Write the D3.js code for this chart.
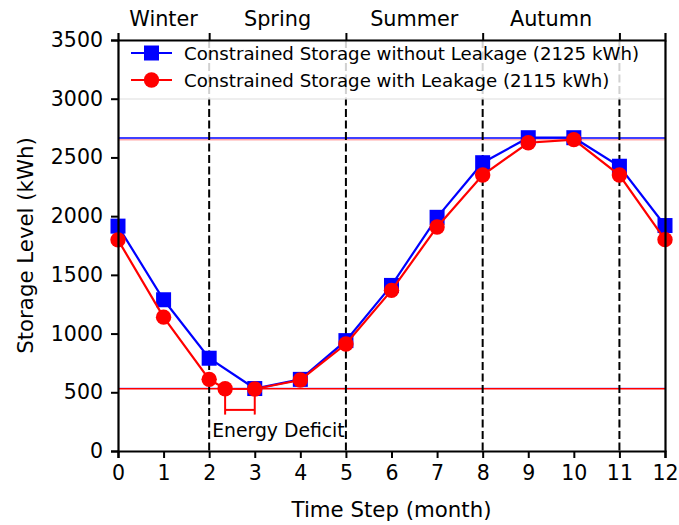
<!DOCTYPE html>
<html>
<head>
<meta charset="utf-8">
<script src="https://cdn.jsdelivr.net/npm/d3@7"></script>
<style>
  html, body { margin: 0; padding: 0; background: #fff; }
  svg { display: block; font-family: "DejaVu Sans", sans-serif; }
</style>
</head>
<body>
<svg id="chart" width="679" height="525"></svg>
<script>
// Monthly storage levels (kWh)
const monthsNoLeak = [0, 1, 2, 3, 4, 5, 6, 7, 8, 9, 10, 11, 12];
const storageNoLeak = [1915, 1288, 790, 532, 610, 940, 1410, 1990, 2455, 2668, 2668, 2425, 1920];

const monthsLeak = [0, 1, 2, 2.35, 3, 4, 5, 6, 7, 8, 9, 10, 11, 12];
const storageLeak = [1798, 1140, 610, 530, 528, 605, 911, 1368, 1908, 2350, 2625, 2652, 2350, 1800];

// Reference levels: maximum and minimum of each series
const levelNoLeak = [2665, 535];
const levelLeak = [2650, 530];

// Season boundaries and season label positions
const seasonBounds = [2, 5, 8, 11];
const seasonNames = ["Winter", "Spring", "Summer", "Autumn"];
const seasonCentres = [1, 3.5, 6.5, 9.5];

// Energy deficit span (months) and bracket depth (kWh)
const deficitSpan = [2.35, 3];
const deficitBracket = [350, 310];

const xTicks = d3.range(0, 13);
const yTicks = [0, 500, 1000, 1500, 2000, 2500, 3000, 3500];

const legendLabels = [
  "Constrained Storage without Leakage (2125 kWh)",
  "Constrained Storage with Leakage (2115 kWh)"
];

const BLUE = "#0000ff", RED = "#ff0000";

const svg = d3.select("#chart");
const margin = { left: 118, right: 14, top: 40, bottom: 74 };
const W = 679, H = 525;

const x = d3.scaleLinear().domain([0, 12]).range([margin.left, W - margin.right]);
const y = d3.scaleLinear().domain([0, 3500]).range([H - margin.bottom, margin.top]);

const plot = svg.append("g");

// Reference lines
function hline(v, colour, op) {
  plot.append("line")
    .attr("x1", x(0)).attr("x2", x(12))
    .attr("y1", y(v)).attr("y2", y(v))
    .attr("stroke", colour).attr("stroke-width", 1.5).attr("stroke-opacity", op);
}
hline(levelLeak[0], RED, 0.35);
hline(levelNoLeak[0], BLUE, 1);
hline(levelNoLeak[1], BLUE, 0.35);
hline(levelLeak[1], RED, 1);

// Season boundaries
plot.selectAll(".season-line").data(seasonBounds).join("line")
  .attr("x1", d => x(d)).attr("x2", d => x(d))
  .attr("y1", y(3500)).attr("y2", y(0))
  .attr("stroke", "#000").attr("stroke-width", 2)
  .attr("stroke-dasharray", "8,3.5");

// Series
const line = d3.line();
const ptsNo = monthsNoLeak.map((m, i) => [x(m), y(storageNoLeak[i])]);
const ptsLk = monthsLeak.map((m, i) => [x(m), y(storageLeak[i])]);

plot.append("path").attr("d", line(ptsNo)).attr("fill", "none")
  .attr("stroke", BLUE).attr("stroke-width", 2.2);
plot.selectAll(".sq").data(ptsNo).join("rect")
  .attr("x", d => d[0] - 7.5).attr("y", d => d[1] - 7.5)
  .attr("width", 15).attr("height", 15).attr("fill", BLUE);

plot.append("path").attr("d", line(ptsLk)).attr("fill", "none")
  .attr("stroke", RED).attr("stroke-width", 2.2);
plot.selectAll(".dot").data(ptsLk).join("circle")
  .attr("cx", d => d[0]).attr("cy", d => d[1]).attr("r", 7.7).attr("fill", RED);

// Energy deficit bracket
const bx0 = x(deficitSpan[0]), bx1 = x(deficitSpan[1]);
const defLevel = storageLeak[monthsLeak.indexOf(deficitSpan[1])];
const br = plot.append("g").attr("stroke", RED).attr("stroke-width", 2).attr("fill", "none");
br.append("line").attr("x1", bx0).attr("x2", bx0).attr("y1", y(defLevel)).attr("y2", y(deficitBracket[1]));
br.append("line").attr("x1", bx1).attr("x2", bx1).attr("y1", y(defLevel)).attr("y2", y(deficitBracket[1]));
br.append("line").attr("x1", bx0).attr("x2", bx1).attr("y1", y(deficitBracket[0])).attr("y2", y(deficitBracket[0]));

svg.append("text")
  .attr("x", x(3.52)).attr("y", 437)
  .attr("text-anchor", "middle").attr("font-size", 18.8)
  .text("Energy Deficit");

// Legend, spanning the top of the plot
const lg = svg.append("g");
lg.append("rect")
  .attr("x", x(0)).attr("y", y(3500))
  .attr("width", x(12) - x(0)).attr("height", 59)
  .attr("fill", "#fff").attr("fill-opacity", 0.82)
  .attr("stroke", "#ddd").attr("stroke-width", 1);
legendLabels.forEach((lab, i) => {
  const cy = 53 + i * 27;
  const colour = i === 0 ? BLUE : RED;
  lg.append("line").attr("x1", 131).attr("x2", 172).attr("y1", cy).attr("y2", cy)
    .attr("stroke", colour).attr("stroke-width", 2.2);
  if (i === 0) {
    lg.append("rect").attr("x", 151.5 - 7.5).attr("y", cy - 7.5).attr("width", 15).attr("height", 15).attr("fill", colour);
  } else {
    lg.append("circle").attr("cx", 151.5).attr("cy", cy).attr("r", 7.7).attr("fill", colour);
  }
  lg.append("text").attr("x", 184).attr("y", cy + 6.5)
    .attr("font-size", 18.2).text(lab);
});

// Axes
const axB = svg.append("g").attr("transform", `translate(0,${y(0)})`)
  .call(d3.axisBottom(x).tickValues(xTicks).tickFormat(d3.format("d")).tickSizeOuter(0).tickSize(7).tickPadding(7));
const axL = svg.append("g").attr("transform", `translate(${x(0)},0)`)
  .call(d3.axisLeft(y).tickValues(yTicks).tickFormat(d3.format("d")).tickSizeOuter(0).tickSize(7).tickPadding(8));
const axT = svg.append("g").attr("transform", `translate(0,${y(3500)})`)
  .call(d3.axisTop(x).tickValues(seasonBounds).tickFormat("").tickSizeOuter(0).tickSize(7));
const axR = svg.append("g").attr("transform", `translate(${x(12)},0)`)
  .call(d3.axisRight(y).tickValues([]).tickSizeOuter(0));

[axB, axL, axT, axR].forEach(a => {
  a.selectAll("path.domain").attr("stroke", "#000").attr("stroke-width", 2.2);
  a.selectAll(".tick line").attr("stroke", "#000").attr("stroke-width", 2);
  a.selectAll(".tick text").attr("font-size", 20.5).attr("fill", "#000")
    .attr("font-family", "DejaVu Sans, sans-serif");
});

// Season labels
svg.selectAll(".season").data(seasonNames).join("text")
  .attr("x", (d, i) => x(seasonCentres[i])).attr("y", 26)
  .attr("text-anchor", "middle").attr("font-size", 20.8).text(d => d);

// Axis titles
svg.append("text").attr("x", x(6)).attr("y", 517)
  .attr("text-anchor", "middle").attr("font-size", 21.3).text("Time Step (month)");
svg.append("text").attr("transform", `translate(33,${(y(0) + y(3500)) / 2}) rotate(-90)`)
  .attr("text-anchor", "middle").attr("font-size", 21.3).text("Storage Level (kWh)");
</script>
</body>
</html>
